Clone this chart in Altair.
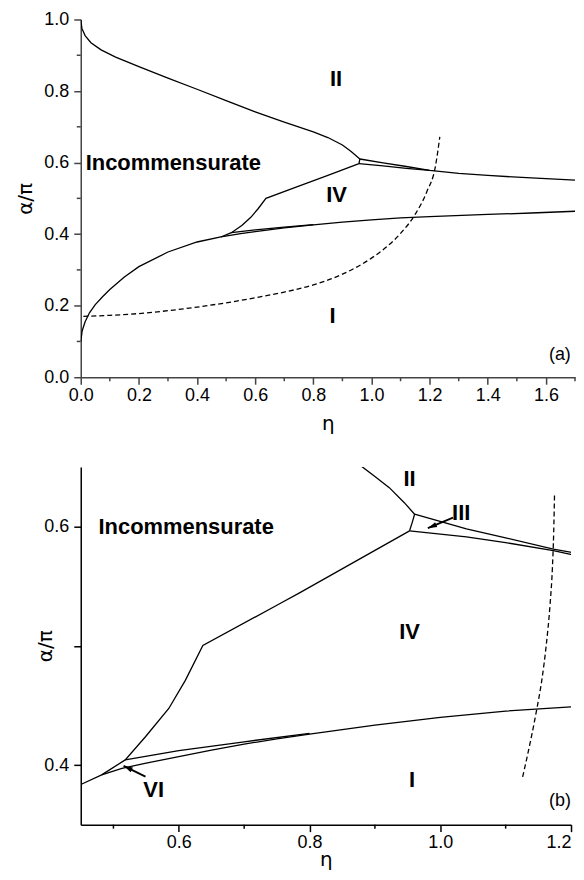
import altair as alt
import pandas as pd

# ---------------- Panel (a) data ----------------
a_II_x = [0.0, 0.004, 0.015, 0.035, 0.07, 0.12, 0.2, 0.3, 0.4, 0.5, 0.6, 0.7, 0.8, 0.85, 0.9, 0.93, 0.96]
a_II_y = [1.0, 0.975, 0.955, 0.935, 0.915, 0.895, 0.868, 0.836, 0.805, 0.773, 0.742, 0.713, 0.686, 0.670, 0.649, 0.631, 0.610]

a_IIIup_x = [0.96, 1.04, 1.12, 1.2, 1.3, 1.4, 1.55, 1.7]
a_IIIup_y = [0.610, 0.599, 0.589, 0.578, 0.570, 0.564, 0.557, 0.551]

a_IIIlo_x = [0.957, 1.04, 1.12, 1.2]
a_IIIlo_y = [0.597, 0.591, 0.584, 0.578]

a_conn_x = [0.96, 0.957]
a_conn_y = [0.610, 0.597]

a_IV_x = [0.482, 0.518, 0.554, 0.585, 0.61, 0.637, 0.75, 0.85, 0.957]
a_IV_y = [0.392, 0.404, 0.424, 0.447, 0.471, 0.500, 0.534, 0.564, 0.597]

a_VI_x = [0.518, 0.6, 0.7, 0.8]
a_VI_y = [0.404, 0.412, 0.4195, 0.4265]

a_low_x = [0.0, 0.005, 0.015, 0.03, 0.05, 0.075, 0.1, 0.15, 0.2, 0.3, 0.4, 0.482, 0.55, 0.6, 0.7, 0.8, 0.9, 1.0, 1.1, 1.2, 1.4, 1.55, 1.7]
a_low_y = [0.10, 0.13, 0.155, 0.18, 0.203, 0.225, 0.245, 0.280, 0.309, 0.350, 0.378, 0.392, 0.4015, 0.407, 0.4175, 0.426, 0.4335, 0.440, 0.4452, 0.4488, 0.455, 0.459, 0.464]

a_dash_x = [0.009, 0.1, 0.2, 0.3, 0.4, 0.5, 0.6, 0.7, 0.8, 0.9, 1.0, 1.05, 1.1, 1.15, 1.19, 1.22, 1.235]
a_dash_y = [0.170, 0.173, 0.178, 0.186, 0.196, 0.208, 0.222, 0.238, 0.258, 0.288, 0.333, 0.363, 0.402, 0.455, 0.518, 0.590, 0.672]

a_lab_text = ["II", "IV", "I"]
a_lab_x = [0.878, 0.880, 0.866]
a_lab_y = [0.833, 0.51, 0.17]
a_inc_x = [0.017]
a_inc_y = [0.60]
a_tag_x = [1.648]
a_tag_y = [0.062]

# ---------------- Panel (b) data ----------------
b_II_x = [0.86, 0.879, 0.9, 0.922, 0.945, 0.9607]
b_II_y = [0.660, 0.6507, 0.642, 0.6326, 0.620, 0.6103]

b_IIIup_x = [0.9607, 1.04, 1.1, 1.173, 1.201]
b_IIIup_y = [0.6103, 0.598, 0.5905, 0.581, 0.5783]

b_IIIlo_x = [0.953, 1.04, 1.1, 1.173, 1.201]
b_IIIlo_y = [0.5964, 0.5914, 0.5865, 0.5797, 0.5764]

b_conn_x = [0.9607, 0.957, 0.953]
b_conn_y = [0.6103, 0.6033, 0.5964]

b_IV_x = [0.482, 0.518, 0.549, 0.5847, 0.610, 0.6368, 0.7535, 0.784, 0.953]
b_IV_y = [0.3917, 0.4043, 0.4237, 0.4474, 0.471, 0.5003, 0.535, 0.5442, 0.5964]

b_VI_x = [0.518, 0.6, 0.7, 0.8]
b_VI_y = [0.4043, 0.412, 0.4195, 0.4265]

b_low_x = [0.451, 0.482, 0.513, 0.55, 0.6, 0.65, 0.7, 0.75, 0.8, 0.9, 1.0, 1.1, 1.2]
b_low_y = [0.3839, 0.3917, 0.3972, 0.4015, 0.407, 0.4125, 0.4175, 0.422, 0.426, 0.4335, 0.4400, 0.4452, 0.4488]

b_dash_x = [1.126, 1.138, 1.1475, 1.155, 1.162, 1.168, 1.1715, 1.1735, 1.1748]
b_dash_y = [0.390, 0.420, 0.4465, 0.470, 0.500, 0.535, 0.565, 0.595, 0.628]

b_lab_text = ["II", "III", "IV", "I", "VI"]
b_lab_x = [0.953, 1.032, 0.953, 0.957, 0.5616]
b_lab_y = [0.6395, 0.6117, 0.5114, 0.3876, 0.3792]
b_inc_x = [0.4772]
b_inc_y = [0.60]
b_tag_x = [1.183]
b_tag_y = [0.3694]

# arrows: tail x, tail y, tip x, tip y
b_arrow_III = [1.0195, 0.6075, 0.981, 0.5986]
b_arrow_VI = [0.549, 0.3903, 0.5156, 0.3993]

FONT = "Liberation Sans"
HEAD = "M0,0L0.75,2.6L-0.75,2.6Z"


def lines_df(segs):
    rows = []
    for name, xs, ys in segs:
        for i, (x, y) in enumerate(zip(xs, ys)):
            rows.append({"seg": name, "i": i, "x": x, "y": y})
    return pd.DataFrame(rows)


def panel(segs, dash, labs, inc, tag, tagtext, arrows, xdom, ydom, xvals, xminor,
          yvals, yminor, w, h, axcol, ylabexpr, xtp, ytp, xflush):
    xs = alt.Scale(domain=xdom, nice=False, zero=False)
    ys = alt.Scale(domain=ydom, nice=False, zero=False)
    xax = alt.Axis(values=xvals, format=".1f", title="η", domainColor=axcol, tickColor=axcol,
                   titlePadding=xtp, titleFont="DejaVu Sans", titleFontSize=20,
                   labelFlush=xflush, labelPadding=2)
    yax_kw = dict(values=yvals, format=".1f", title="α/π", domainColor=axcol, tickColor=axcol,
                  titlePadding=ytp, titleFont="DejaVu Sans", titleFontSize=20, labelFlush=False,
                  labelPadding=5)
    if ylabexpr:
        yax_kw["labelExpr"] = ylabexpr
    yax = alt.Axis(**yax_kw)

    base_lines = alt.Chart(lines_df(segs)).mark_line(color="black", strokeWidth=1.3, clip=True).encode(
        x=alt.X("x:Q", scale=xs, axis=xax),
        y=alt.Y("y:Q", scale=ys, axis=yax),
        detail="seg:N",
        order="i:Q",
    )
    dashed = alt.Chart(pd.DataFrame({"x": dash[0], "y": dash[1]})).mark_line(
        color="black", strokeWidth=1.3, strokeDash=[5, 3], clip=True, interpolate="monotone").encode(
        x=alt.X("x:Q", scale=xs), y=alt.Y("y:Q", scale=ys))
    lab = alt.Chart(pd.DataFrame({"t": labs[0], "x": labs[1], "y": labs[2]})).mark_text(
        font=FONT, fontWeight="bold", fontSize=22, align="center", baseline="middle", color="black").encode(
        x=alt.X("x:Q", scale=xs), y=alt.Y("y:Q", scale=ys), text="t:N")
    incl = alt.Chart(pd.DataFrame({"t": ["Incommensurate"], "x": inc[0], "y": inc[1]})).mark_text(
        font=FONT, fontWeight="bold", fontSize=22, align="left", baseline="middle", color="black").encode(
        x=alt.X("x:Q", scale=xs), y=alt.Y("y:Q", scale=ys), text="t:N")
    tagl = alt.Chart(pd.DataFrame({"t": [tagtext], "x": tag[0], "y": tag[1]})).mark_text(
        font=FONT, fontSize=18, align="center", baseline="middle", color="black").encode(
        x=alt.X("x:Q", scale=xs), y=alt.Y("y:Q", scale=ys), text="t:N")
    xmin = alt.Chart(pd.DataFrame({"v": xminor})).mark_rule(color=axcol, strokeWidth=1.5).encode(
        x=alt.X("v:Q", scale=xs), y=alt.value(h), y2=alt.value(h + 4))
    layers = [base_lines, dashed, lab, incl, tagl, xmin]
    if yminor:
        ymin = alt.Chart(pd.DataFrame({"v": yminor})).mark_rule(color=axcol, strokeWidth=1.5).encode(
            y=alt.Y("v:Q", scale=ys), x=alt.value(0), x2=alt.value(-4))
        layers.append(ymin)
    for arr, ang in arrows:
        shaft = alt.Chart(pd.DataFrame({"x": [arr[0]], "y": [arr[1]], "x2": [arr[2]], "y2": [arr[3]]})).mark_rule(
            color="black", strokeWidth=1.8).encode(
            x=alt.X("x:Q", scale=xs), y=alt.Y("y:Q", scale=ys), x2="x2:Q", y2="y2:Q")
        head = alt.Chart(pd.DataFrame({"x": [arr[2]], "y": [arr[3]]})).mark_point(
            shape=HEAD, filled=True, color="black", size=49, angle=ang, opacity=1,
            strokeWidth=0).encode(
            x=alt.X("x:Q", scale=xs), y=alt.Y("y:Q", scale=ys))
        layers += [shaft, head]
    return alt.layer(*layers).properties(width=w, height=h)


segs_a = [("II", a_II_x, a_II_y), ("IIIup", a_IIIup_x, a_IIIup_y), ("IIIlo", a_IIIlo_x, a_IIIlo_y),
          ("conn", a_conn_x, a_conn_y), ("IV", a_IV_x, a_IV_y), ("VI", a_VI_x, a_VI_y),
          ("low", a_low_x, a_low_y)]
segs_b = [("II", b_II_x, b_II_y), ("IIIup", b_IIIup_x, b_IIIup_y), ("IIIlo", b_IIIlo_x, b_IIIlo_y),
          ("conn", b_conn_x, b_conn_y), ("IV", b_IV_x, b_IV_y), ("VI", b_VI_x, b_VI_y),
          ("low", b_low_x, b_low_y)]

ca = panel(segs_a, (a_dash_x, a_dash_y), (a_lab_text, a_lab_x, a_lab_y), (a_inc_x, a_inc_y),
           (a_tag_x, a_tag_y), "(a)", [], [0, 1.7], [0, 1.0],
           [0, 0.2, 0.4, 0.6, 0.8, 1.0, 1.2, 1.4, 1.6], [0.1, 0.3, 0.5, 0.7, 0.9, 1.1, 1.3, 1.5, 1.7],
           [0, 0.2, 0.4, 0.6, 0.8, 1.0], [0.1, 0.3, 0.5, 0.7, 0.9], 496, 359, "#444444", None,
           9, 8, False)

cb = panel(segs_b, (b_dash_x, b_dash_y), (b_lab_text, b_lab_x, b_lab_y), (b_inc_x, b_inc_y),
           (b_tag_x, b_tag_y), "(b)", [(b_arrow_III, 247), (b_arrow_VI, 296)], [0.45, 1.2], [0.35, 0.65],
           [0.6, 0.8, 1.0, 1.2], [0.5, 0.7, 0.9, 1.1],
           [0.4, 0.5, 0.6], [], 492, 359, "black",
           "datum.value == 0.5 ? '' : format(datum.value, '.1f')",
           -2, -12, True)

chart = alt.vconcat(ca, cb, spacing=90, bounds="flush").properties(
    padding={"left": 7, "top": 1, "right": 0, "bottom": 0}
).configure_view(stroke=None).configure_axis(
    labelFont=FONT, labelFontSize=18, labelColor="black", titleColor="black",
    titleFontWeight="normal", grid=False, tickSize=7,
    domainWidth=1.5, tickWidth=1.5,
)

chart.save("out.html", embed_options={"renderer": "svg", "actions": False})
